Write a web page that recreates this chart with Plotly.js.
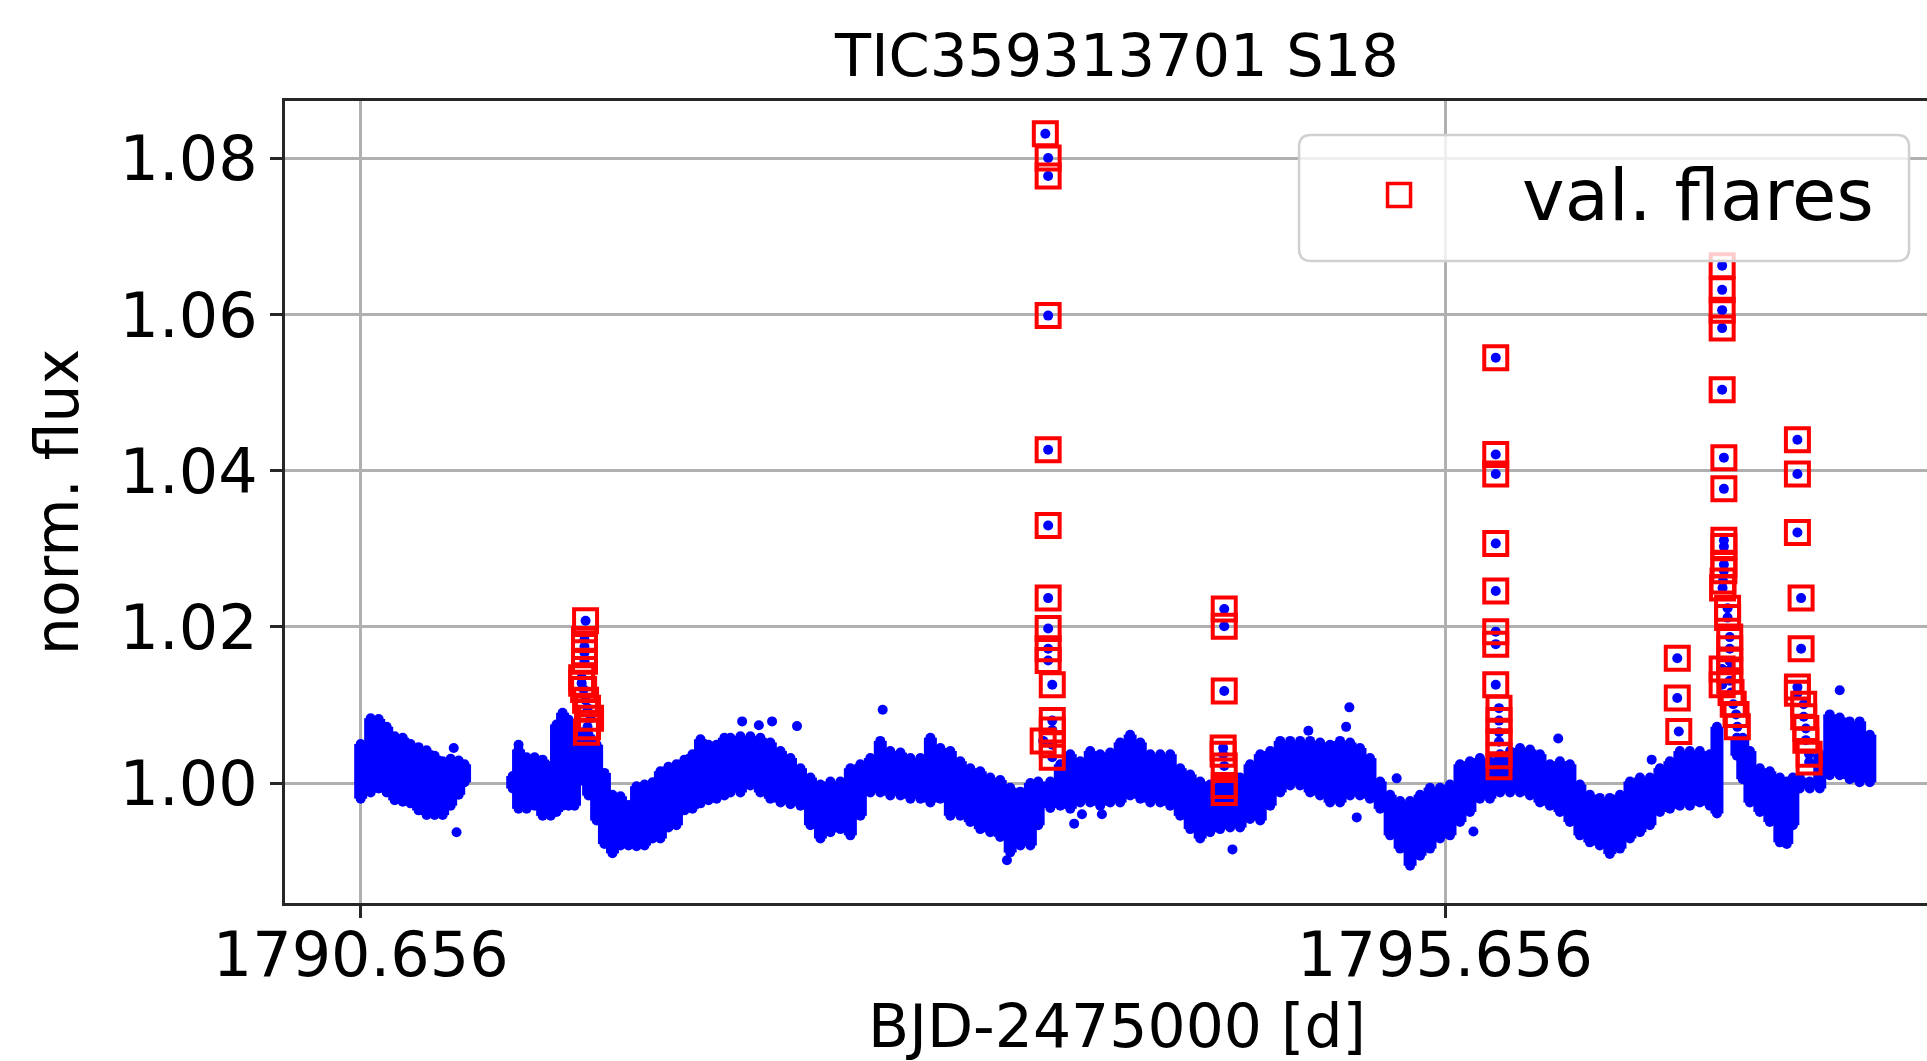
<!DOCTYPE html>
<html>
<head>
<meta charset="utf-8">
<script src="https://cdn.plot.ly/plotly-3.0.1.min.js"></script>
<style>
html, body { margin: 0; padding: 0; overflow: hidden; background: #fff; }
#chart { width: 1990px; height: 1061px; }
</style>
</head>
<body>
<div id="chart"></div>
<script>
const bandT = [
  1790.656, 1790.702, 1790.739, 1790.776, 1790.813, 1790.850, 1790.886, 1790.923, 1790.960, 1790.997, 1791.034, 1791.071, 1791.108, 1791.135,
  1791.357, 1791.384, 1791.421, 1791.458, 1791.495, 1791.532, 1791.559, 1791.587, 1791.615, 1791.642, 1791.670, 1791.707, 1791.744, 1791.780, 1791.817, 1791.854, 1791.891, 1791.928, 1791.965, 1792.002, 1792.038, 1792.075, 1792.112, 1792.149, 1792.186, 1792.223, 1792.260, 1792.297, 1792.333,
  1792.361, 1792.407, 1792.453, 1792.499, 1792.545, 1792.592, 1792.638, 1792.684, 1792.730, 1792.776, 1792.822, 1792.868, 1792.914, 1792.960, 1793.006, 1793.052, 1793.098, 1793.145, 1793.191, 1793.237, 1793.283, 1793.329, 1793.375, 1793.421, 1793.467, 1793.513, 1793.559, 1793.605, 1793.651, 1793.698, 1793.744, 1793.780, 1793.836, 1793.882, 1793.928, 1793.974, 1794.020, 1794.066, 1794.112,
  1794.158, 1794.204, 1794.251, 1794.297, 1794.343, 1794.389, 1794.435, 1794.481, 1794.527, 1794.573, 1794.619, 1794.665, 1794.711, 1794.757, 1794.804, 1794.850, 1794.896, 1794.942, 1794.988, 1795.034, 1795.080, 1795.126, 1795.172, 1795.218, 1795.264, 1795.310, 1795.357, 1795.403, 1795.449, 1795.495, 1795.541, 1795.587, 1795.633, 1795.679, 1795.725, 1795.771, 1795.817,
  1795.863, 1795.910, 1795.956, 1796.002, 1796.048, 1796.094, 1796.140, 1796.186, 1796.232, 1796.278, 1796.324, 1796.370, 1796.416, 1796.463, 1796.509, 1796.555, 1796.601, 1796.647, 1796.693, 1796.739, 1796.785, 1796.831, 1796.877, 1796.910,
  1797.002, 1797.029, 1797.062, 1797.108, 1797.154, 1797.200, 1797.232, 1797.260, 1797.292, 1797.338, 1797.384, 1797.430, 1797.476, 1797.522, 1797.568, 1797.615
];
const bandHi = [
  1.0050, 1.0083, 1.0082, 1.0072, 1.0060, 1.0058, 1.0050, 1.0046, 1.0042, 1.0035, 1.0028, 1.0031, 1.0029, 1.0024,
  1.0009, 1.0043, 1.0033, 1.0033, 1.0030, 1.0022, 1.0075, 1.0090, 1.0081, 1.0037, 1.0065, 1.0062, 1.0049, 1.0013, 0.9985, 0.9983, 0.9972, 0.9996, 0.9998, 1.0001, 1.0015, 1.0021, 1.0024, 1.0030, 1.0037, 1.0056, 1.0049, 1.0049, 1.0058,
  1.0058, 1.0060, 1.0060, 1.0058, 1.0052, 1.0041, 1.0032, 1.0019, 1.0007, 0.9998, 1.0002, 1.0002, 1.0019, 1.0024, 1.0032, 1.0054, 1.0041, 1.0039, 1.0032, 1.0032, 1.0058, 1.0045, 1.0041, 1.0028, 1.0019, 1.0015, 1.0007, 1.0004, 0.9994, 0.9989, 1.0000, 1.0002, 1.0002, 1.0024, 1.0037, 1.0028, 1.0041, 1.0037, 1.0039,
  1.0052, 1.0062, 1.0052, 1.0037, 1.0037, 1.0037, 1.0019, 1.0011, 1.0002, 0.9998, 0.9998, 0.9998, 1.0007, 1.0024, 1.0037, 1.0041, 1.0054, 1.0054, 1.0054, 1.0054, 1.0052, 1.0049, 1.0054, 1.0052, 1.0045, 1.0032, 1.0002, 0.9985, 0.9977, 0.9977, 0.9985, 0.9994, 0.9994, 0.9998, 1.0024, 1.0028, 1.0032,
  1.0028, 1.0037, 1.0041, 1.0045, 1.0043, 1.0037, 1.0024, 1.0028, 1.0024, 0.9998, 0.9985, 0.9981, 0.9981, 0.9985, 1.0002, 1.0007, 1.0007, 1.0019, 1.0028, 1.0041, 1.0041, 1.0041, 1.0037, 1.0072,
  1.0058, 1.0058, 1.0041, 1.0019, 1.0015, 1.0007, 1.0002, 1.0007, 1.0007, 1.0002, 1.0037, 1.0088, 1.0084, 1.0079, 1.0079, 1.0062
];
const bandLo = [
  0.9980, 0.9988, 0.9993, 0.9988, 0.9978, 0.9976, 0.9974, 0.9965, 0.9959, 0.9959, 0.9959, 0.9971, 0.9985, 1.0001,
  0.9993, 0.9967, 0.9967, 0.9971, 0.9958, 0.9958, 0.9963, 0.9971, 0.9971, 0.9971, 1.0003, 0.9984, 0.9952, 0.9922, 0.9910, 0.9920, 0.9920, 0.9919, 0.9920, 0.9929, 0.9929, 0.9943, 0.9946, 0.9965, 0.9967, 0.9974, 0.9978, 0.9980, 0.9984,
  0.9988, 0.9988, 0.9997, 0.9988, 0.9980, 0.9975, 0.9973, 0.9971, 0.9946, 0.9929, 0.9937, 0.9941, 0.9933, 0.9958, 0.9988, 0.9988, 0.9984, 0.9984, 0.9980, 0.9980, 0.9975, 0.9980, 0.9958, 0.9958, 0.9950, 0.9941, 0.9937, 0.9931, 0.9911, 0.9920, 0.9920, 0.9946, 0.9968, 0.9971, 0.9967, 0.9975, 0.9975, 0.9971, 0.9975,
  0.9975, 0.9984, 0.9980, 0.9975, 0.9975, 0.9971, 0.9958, 0.9941, 0.9929, 0.9937, 0.9941, 0.9943, 0.9943, 0.9954, 0.9952, 0.9971, 0.9988, 0.9997, 0.9997, 0.9988, 0.9984, 0.9975, 0.9975, 0.9984, 0.9984, 0.9980, 0.9967, 0.9933, 0.9916, 0.9894, 0.9907, 0.9916, 0.9929, 0.9933, 0.9950, 0.9963, 0.9980,
  0.9980, 0.9988, 0.9988, 0.9988, 0.9984, 0.9975, 0.9971, 0.9963, 0.9950, 0.9933, 0.9924, 0.9920, 0.9909, 0.9916, 0.9929, 0.9937, 0.9946, 0.9963, 0.9967, 0.9971, 0.9971, 0.9975, 0.9971, 0.9961,
  1.0035, 1.0005, 0.9975, 0.9963, 0.9950, 0.9924, 0.9922, 0.9946, 0.9993, 0.9993, 0.9993, 1.0010, 1.0010, 1.0005, 1.0001, 1.0001
];

// Isolated points off the band
const outlierT = [1791.085, 1791.098, 1791.384, 1792.415, 1792.492, 1792.553, 1792.668, 1793.063, 1793.636, 1793.946, 1793.982, 1794.074, 1794.676, 1795.026, 1795.200, 1795.215, 1795.249, 1795.433, 1795.787, 1796.178, 1796.609, 1797.476];
const outlierF = [1.0045, 0.9937, 1.0049, 1.0079, 1.0074, 1.0079, 1.0073, 1.0094, 0.9901, 0.9948, 0.9960, 0.9960, 0.9915, 1.0067, 1.0072, 1.0097, 0.9956, 1.0006, 0.9938, 1.0057, 1.0030, 1.0119];

// Validated flare points
const flareT = [
  1791.693, 1791.688, 1791.688, 1791.688, 1791.688, 1791.675, 1791.675, 1791.684, 1791.693, 1791.702, 1791.716, 1791.702, 1791.697,
  1793.813, 1793.826, 1793.826, 1793.826, 1793.826, 1793.826, 1793.826, 1793.826, 1793.826, 1793.826, 1793.845, 1793.845, 1793.845, 1793.803, 1793.845, 1793.845,
  1794.638, 1794.638, 1794.638, 1794.633, 1794.633, 1794.638, 1794.638, 1794.638,
  1795.890, 1795.890, 1795.890, 1795.890, 1795.890, 1795.890, 1795.890, 1795.890, 1795.905, 1795.905, 1795.905, 1795.905, 1795.905, 1795.905,
  1796.727, 1796.727, 1796.734,
  1796.934, 1796.934, 1796.934, 1796.934, 1796.934, 1796.942, 1796.942, 1796.942, 1796.942, 1796.942, 1796.942, 1796.938, 1796.936, 1796.959, 1796.959, 1796.969, 1796.969, 1796.969, 1796.934, 1796.969, 1796.934, 1796.969, 1796.975, 1796.985, 1796.998, 1797.004,
  1797.281, 1797.281, 1797.281, 1797.298, 1797.298, 1797.281, 1797.281, 1797.310, 1797.310, 1797.320, 1797.320, 1797.335, 1797.335
];
const flareF = [
  1.0208, 1.0184, 1.0175, 1.0167, 1.0156, 1.0135, 1.0128, 1.0120, 1.0106, 1.0096, 1.0083, 1.0072, 1.0065,
  1.0832, 1.0801, 1.0778, 1.0599, 1.0427, 1.0330, 1.0237, 1.0198, 1.0172, 1.0157, 1.0126, 1.0080, 1.0068, 1.0054, 1.0049, 1.0033,
  1.0223, 1.0201, 1.0118, 1.0045, 1.0037, 1.0022, 0.9997, 0.9988,
  1.0545, 1.0421, 1.0396, 1.0307, 1.0246, 1.0194, 1.0178, 1.0126, 1.0096, 1.0080, 1.0065, 1.0053, 1.0035, 1.0021,
  1.0160, 1.0109, 1.0066,
  1.0663, 1.0632, 1.0606, 1.0583, 1.0504, 1.0417, 1.0377, 1.0311, 1.0303, 1.0280, 1.0272, 1.0259, 1.0250, 1.0224, 1.0212, 1.0187, 1.0172, 1.0156, 1.0146, 1.0145, 1.0126, 1.0131, 1.0116, 1.0101, 1.0088, 1.0072,
  1.0440, 1.0396, 1.0321, 1.0237, 1.0172, 1.0123, 1.0115, 1.0101, 1.0085, 1.0070, 1.0055, 1.0037, 1.0027
];

const xTickVals = [1790.656, 1795.656];
const xTickText = ['1790.656', '1795.656'];
const yTickVals = [1.00, 1.02, 1.04, 1.06, 1.08];
const yTickText = ['1.00', '1.02', '1.04', '1.06', '1.08'];

const titleText = 'TIC359313701 S18';
const xTitle = 'BJD-2475000 [d]';
const yTitle = 'norm. flux';
const legendName = 'val. flares';

// Build vertical segments (lowest to highest flux) for each time column
const segX = [], segY = [];
bandT.forEach((t, i) => { segX.push(t, t, null); segY.push(bandLo[i], bandHi[i], null); });

const blueX = bandT.concat(bandT, outlierT, flareT);
const blueY = bandLo.concat(bandHi, outlierF, flareF);

const FONT = 'DejaVu Sans, Liberation Sans, sans-serif';
const RED = '#ff0000';

const traces = [
  { type: 'scatter', mode: 'lines', x: segX, y: segY, connectgaps: false,
    line: { color: '#0000ff', width: 13 }, hoverinfo: 'skip', showlegend: false },
  { type: 'scatter', mode: 'markers', x: blueX, y: blueY,
    marker: { color: '#0000ff', size: 10 }, hoverinfo: 'skip', showlegend: false },
  { type: 'scatter', mode: 'markers', x: flareT, y: flareF, name: legendName, legendgroup: 'flares',
    marker: { symbol: 'square-open', color: RED, size: 23, line: { color: RED, width: 4 } },
    hoverinfo: 'skip', showlegend: false },
  // legend entry for the flares (its symbol is drawn full-size by a shape below)
  { type: 'scatter', mode: 'markers', x: [null], y: [null], name: legendName, legendgroup: 'flares',
    marker: { symbol: 'square-open', color: 'rgba(0,0,0,0)', size: 16, line: { color: 'rgba(0,0,0,0)', width: 0 } },
    hoverinfo: 'skip', showlegend: true }
];

// Legend frame (rounded, semi-transparent like the reference), in paper coordinates
const fx0 = 0.6094, fx1 = 0.9760, fy0 = 0.8005, fy1 = 0.9576, rx = 0.0072, ry = 0.015;
const framePath = `M ${fx0 + rx} ${fy0} L ${fx1 - rx} ${fy0} Q ${fx1} ${fy0} ${fx1} ${fy0 + ry} L ${fx1} ${fy1 - ry} Q ${fx1} ${fy1} ${fx1 - rx} ${fy1} L ${fx0 + rx} ${fy1} Q ${fx0} ${fy1} ${fx0} ${fy1 - ry} L ${fx0} ${fy0 + ry} Q ${fx0} ${fy0} ${fx0 + rx} ${fy0} Z`;

const layout = {
  width: 1990, height: 1061,
  margin: { l: 285, r: 41, t: 101, b: 158 },
  paper_bgcolor: '#ffffff', plot_bgcolor: '#ffffff',
  font: { family: FONT, size: 60, color: '#000000' },
  hovermode: false,
  title: { text: titleText, font: { family: FONT, size: 59, color: '#000000' },
           x: 0.5, xref: 'paper', xanchor: 'center', y: 0.948, yref: 'container', yanchor: 'middle' },
  xaxis: {
    range: [1790.307, 1797.98],
    tickmode: 'array', tickvals: xTickVals, ticktext: xTickText,
    showgrid: true, gridcolor: '#b0b0b0', gridwidth: 3, zeroline: false,
    showline: true, linecolor: '#262626', linewidth: 3, mirror: true,
    ticks: 'outside', ticklen: 12, tickwidth: 3, tickcolor: '#262626',
    ticklabelstandoff: -16,
    tickfont: { family: FONT, size: 62, color: '#000000' },
    title: { text: xTitle, font: { family: FONT, size: 60, color: '#000000' }, standoff: 28 }
  },
  yaxis: {
    range: [0.98463, 1.0874],
    tickmode: 'array', tickvals: yTickVals, ticktext: yTickText,
    showgrid: true, gridcolor: '#b0b0b0', gridwidth: 3, zeroline: false,
    showline: true, linecolor: '#262626', linewidth: 3, mirror: true,
    ticks: 'outside', ticklen: 12, tickwidth: 3, tickcolor: '#262626',
    tickfont: { family: FONT, size: 62, color: '#000000' },
    title: { text: yTitle, font: { family: FONT, size: 60, color: '#000000' }, standoff: 22 }
  },
  shapes: [
    { type: 'path', xref: 'paper', yref: 'paper', path: framePath, layer: 'above',
      fillcolor: 'rgba(255,255,255,0.8)', line: { color: '#d0d0d0', width: 2.5 } },
    // legend symbol: open red square, same size as the plotted flare markers
    { type: 'rect', xref: 'paper', yref: 'paper', layer: 'above',
      xsizemode: 'pixel', ysizemode: 'pixel', xanchor: 0.6695, yanchor: 0.8828,
      x0: -11.5, x1: 11.5, y0: -11.5, y1: 11.5,
      fillcolor: 'rgba(0,0,0,0)', line: { color: RED, width: 3.5 } }
  ],
  showlegend: true,
  legend: {
    x: 0.598, xanchor: 'left', y: 0.8865, yanchor: 'middle',
    bgcolor: 'rgba(0,0,0,0)', borderwidth: 0,
    font: { family: FONT, size: 72, color: '#000000' },
    itemwidth: 232, itemsizing: 'trace', itemclick: false, itemdoubleclick: false
  }
};

Plotly.newPlot('chart', traces, layout, { displayModeBar: false, staticPlot: true });
</script>
</body>
</html>
